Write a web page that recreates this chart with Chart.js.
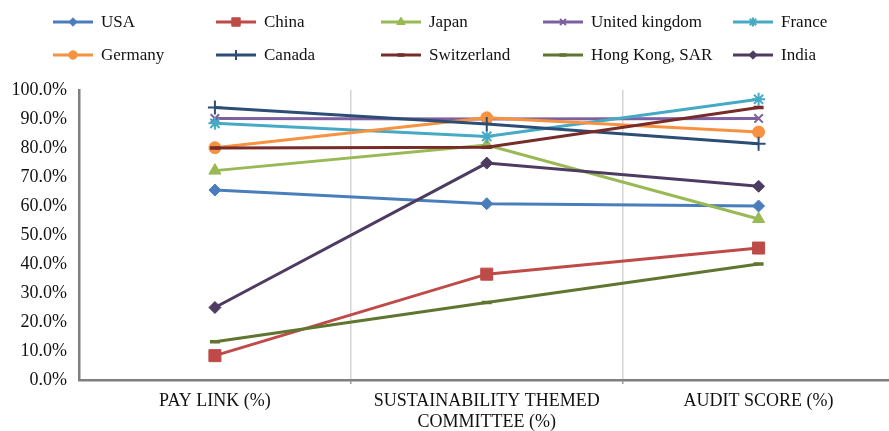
<!DOCTYPE html>
<html>
<head>
<meta charset="utf-8">
<script src="https://cdn.jsdelivr.net/npm/chart.js@4/dist/chart.umd.min.js"></script>
<style>
  html, body { margin: 0; padding: 0; background: #fff; overflow: hidden; }
  #wrap { width: 889px; height: 431px; overflow: hidden; }
  canvas { display: block; }
</style>
</head>
<body>
<div id="wrap">
  <!-- plot area runs a bit past the right edge in the original, so the canvas is wider than the window -->
  <canvas id="chart" width="904" height="431"></canvas>
</div>
<script>
// categories (x axis)
const categories = [
  'PAY LINK (%)',
  ['SUSTAINABILITY THEMED', 'COMMITTEE (%)'],
  'AUDIT SCORE (%)'
];

// values, in %
const usa = [65.5, 60.8, 60.0];
const china = [8.4, 36.5, 45.5];
const japan = [72.2, 81.0, 55.5];
const unitedKingdom = [90.2, 90.0, 90.2];
const france = [88.5, 84.0, 96.8];
const germany = [80.1, 90.4, 85.5];
const canada = [94.0, 88.3, 81.5];
const switzerland = [80.0, 80.3, 94.0];
const hongKong = [13.2, 26.7, 40.0];
const india = [25.0, 74.8, 66.8];

const seriesNames = ['USA', 'China', 'Japan', 'United kingdom', 'France',
  'Germany', 'Canada', 'Switzerland', 'Hong Kong, SAR', 'India'];
const seriesValues = [usa, china, japan, unitedKingdom, france,
  germany, canada, switzerland, hongKong, india];

// styling (Excel default palette + marker sequence)
const colors = ['#4A7EBB', '#BE4B48', '#98B954', '#7D60A0', '#46AAC5',
  '#F69240', '#2C4D75', '#772C2A', '#5F7530', '#4D3B62'];
const markers = [
  { style: 'rectRot', r: 6, bw: 1 },
  { style: 'rect', r: 8.5, bw: 1 },
  { style: 'triangle', r: 7, bw: 1 },
  { style: 'crossRot', r: 6, bw: 2 },
  { style: 'star', r: 6.5, bw: 2 },
  { style: 'circle', r: 6, bw: 1 },
  { style: 'cross', r: 7, bw: 2 },
  { style: 'line', r: 5, bw: 3.5 },
  { style: 'line', r: 5, bw: 3.5 },
  { style: 'rectRot', r: 6, bw: 1 }
];

const FONT = 'Liberation Serif, Times New Roman, serif';

// legend drawn at fixed spots like the original (2 rows x 5 columns)
const legendCols = [53, 216, 381, 543, 733];
const legendRows = [22, 55];

const fixedLegend = {
  id: 'fixedLegend',
  afterDraw(chart) {
    const ctx = chart.ctx;
    ctx.save();
    chart.data.datasets.forEach((ds, i) => {
      const x = legendCols[i % 5];
      const y = legendRows[Math.floor(i / 5)];
      ctx.strokeStyle = ds.borderColor;
      ctx.fillStyle = ds.borderColor;
      ctx.lineWidth = 3;
      ctx.beginPath();
      ctx.moveTo(x, y);
      ctx.lineTo(x + 40, y);
      ctx.stroke();
      const m = markers[i];
      ctx.lineWidth = m.bw;
      Chart.helpers.drawPoint(ctx, {
        pointStyle: m.style,
        radius: m.r * 0.7,
        rotation: 0,
        borderWidth: m.bw
      }, x + 20, y);
      ctx.fillStyle = '#111';
      ctx.font = '17px ' + FONT;
      ctx.textBaseline = 'middle';
      ctx.textAlign = 'left';
      ctx.fillText(ds.label, x + 48, y + 1);
    });
    ctx.restore();
  }
};

const datasets = seriesNames.map((name, i) => ({
  label: name,
  data: seriesValues[i],
  borderColor: colors[i],
  backgroundColor: colors[i],
  borderWidth: 3,
  pointStyle: markers[i].style,
  pointRadius: markers[i].r,
  pointBorderWidth: markers[i].bw,
  pointBackgroundColor: colors[i],
  pointBorderColor: colors[i],
  tension: 0,
  order: 10 - i
}));

new Chart(document.getElementById('chart'), {
  type: 'line',
  data: { labels: categories, datasets: datasets },
  plugins: [fixedLegend],
  options: {
    responsive: false,
    animation: false,
    devicePixelRatio: 1,
    layout: { padding: { top: 90, left: 0, right: 0, bottom: 0 } },
    plugins: {
      legend: { display: false },
      tooltip: { enabled: false }
    },
    scales: {
      x: {
        offset: true,
        afterFit(scale) { scale.height = 51; },
        grid: {
          offset: true,
          drawOnChartArea: true,
          color: (c) => (c.index === 1 || c.index === 2) ? '#d4d4d4' : 'rgba(0,0,0,0)',
          tickColor: (c) => (c.index === 1 || c.index === 2) ? '#9a9a9a' : 'rgba(0,0,0,0)',
          lineWidth: 1.5,
          tickLength: 4
        },
        border: { color: '#7f7f7f', width: 2.5 },
        ticks: {
          color: '#111',
          padding: 6,
          maxRotation: 0,
          autoSkip: false,
          font: { family: FONT, size: 18, lineHeight: 1.2 }
        }
      },
      y: {
        min: 0,
        max: 100,
        afterFit(scale) { scale.width = 79; },
        grid: { display: false, drawTicks: false },
        border: { color: '#7f7f7f', width: 2.5 },
        ticks: {
          stepSize: 10,
          color: '#111',
          padding: 12,
          font: { family: FONT, size: 18 },
          callback: (v) => v.toFixed(1) + '%'
        }
      }
    }
  }
});
</script>
</body>
</html>
